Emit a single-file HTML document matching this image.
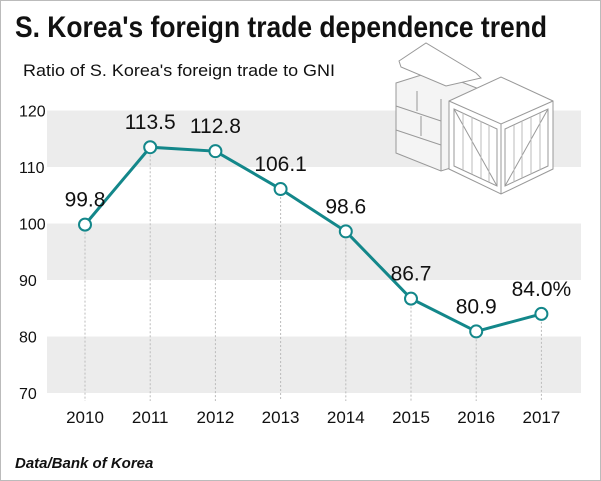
<!DOCTYPE html>
<html><head><meta charset="utf-8"><style>
body{margin:0;background:#fff;}
#c{position:relative;width:601px;height:481px;overflow:hidden;border:1px solid #bbb;box-sizing:border-box;font-family:"Liberation Sans",sans-serif;}
</style></head><body>
<div id="c">
<svg id="s" width="601" height="481">
<text x="14" y="36" font-size="30" font-weight="bold" fill="#111" textLength="532" lengthAdjust="spacingAndGlyphs">S. Korea's foreign trade dependence trend</text>
<text x="22" y="75" font-size="17" fill="#111" textLength="312" lengthAdjust="spacingAndGlyphs">Ratio of S. Korea's foreign trade to GNI</text>
<g id="bands"></g>
<g id="crate" fill="#fff" stroke="#999" stroke-width="1">
<polygon points="395,82 433,70 478,88 478,158 440,170 395,152" fill="#f4f4f4"/>
<line x1="395" y1="105" x2="440" y2="120"/><line x1="395" y1="129" x2="440" y2="144"/>
<line x1="440" y1="98" x2="440" y2="170"/><line x1="416" y1="90" x2="416" y2="110"/><line x1="420" y1="115" x2="420" y2="135"/>
<polygon points="398,60 425,42 475,72 480,77 445,85 400,66" fill="#fff"/>
<polygon points="448,100 500,76 552,100 552,168 500,193 448,168" fill="#fff"/>
<polyline points="448,100 500,123 552,100" fill="none"/><line x1="500" y1="123" x2="500" y2="193"/>
<polygon points="453,108 496,128 496,185 453,165" fill="none"/><line x1="453" y1="108" x2="496" y2="185"/>
<polygon points="504,128 547,108 547,165 504,185" fill="none"/><line x1="547" y1="108" x2="504" y2="185"/>
<g stroke="#bbb"><line x1="462" y1="112" x2="462" y2="169"/><line x1="471" y1="116" x2="471" y2="173"/><line x1="480" y1="120" x2="480" y2="177"/><line x1="488" y1="124" x2="488" y2="181"/>
<line x1="513" y1="124" x2="513" y2="181"/><line x1="521" y1="120" x2="521" y2="177"/><line x1="530" y1="116" x2="530" y2="173"/><line x1="539" y1="112" x2="539" y2="169"/></g>
</g>
<g id="axis"></g><g id="plot"></g>
<text x="14" y="467" font-size="15" font-style="italic" font-weight="bold" fill="#111">Data/Bank of Korea</text>
</svg>
</div>
<script>
const years=["2010","2011","2012","2013","2014","2015","2016","2017"];
const values=[99.8,113.5,112.8,106.1,98.6,86.7,80.9,84.0];
const labels=["99.8","113.5","112.8","106.1","98.6","86.7","80.9","84.0"];
const yTicks=[70,80,90,100,110,120];
const NS="http://www.w3.org/2000/svg";
function y(v){return 392-(v-70)*5.65;}
function x(i){return 84+i*65.2;}
function mk(p,t,a){const e=document.createElementNS(NS,t);for(const k in a)e.setAttribute(k,a[k]);document.getElementById(p).appendChild(e);return e;}
[[110,120],[90,100],[70,80]].forEach(b=>{const r=mk("bands","rect",{x:46,y:y(b[1]),width:534,height:y(b[0])-y(b[1]),fill:"#ececec"});

});
yTicks.forEach(t=>{const e=mk("axis","text",{x:18,y:y(t)+6,"font-size":16,fill:"#111"});e.textContent=t;

});
years.forEach((yr,i)=>{const l=mk("axis","line",{x1:x(i),x2:x(i),y1:y(values[i]),y2:400,stroke:"#bbb","stroke-dasharray":"2,2"});


const e=mk("axis","text",{x:x(i),y:422,"font-size":17,"text-anchor":"middle",fill:"#111"});e.textContent=yr;

});
const pl=mk("plot","polyline",{points:values.map((v,i)=>x(i)+","+y(v)).join(" "),fill:"none",stroke:"#13878a","stroke-width":3});


values.forEach((v,i)=>{const c=mk("plot","circle",{cx:x(i),cy:y(v),r:6,fill:"#fff",stroke:"#13878a","stroke-width":2});


const t=mk("plot","text",{x:x(i),y:y(v)-18,"font-size":21,"text-anchor":"middle",fill:"#111"});t.textContent=labels[i]+(i==values.length-1?"%":"");

});
</script>
</body></html>
